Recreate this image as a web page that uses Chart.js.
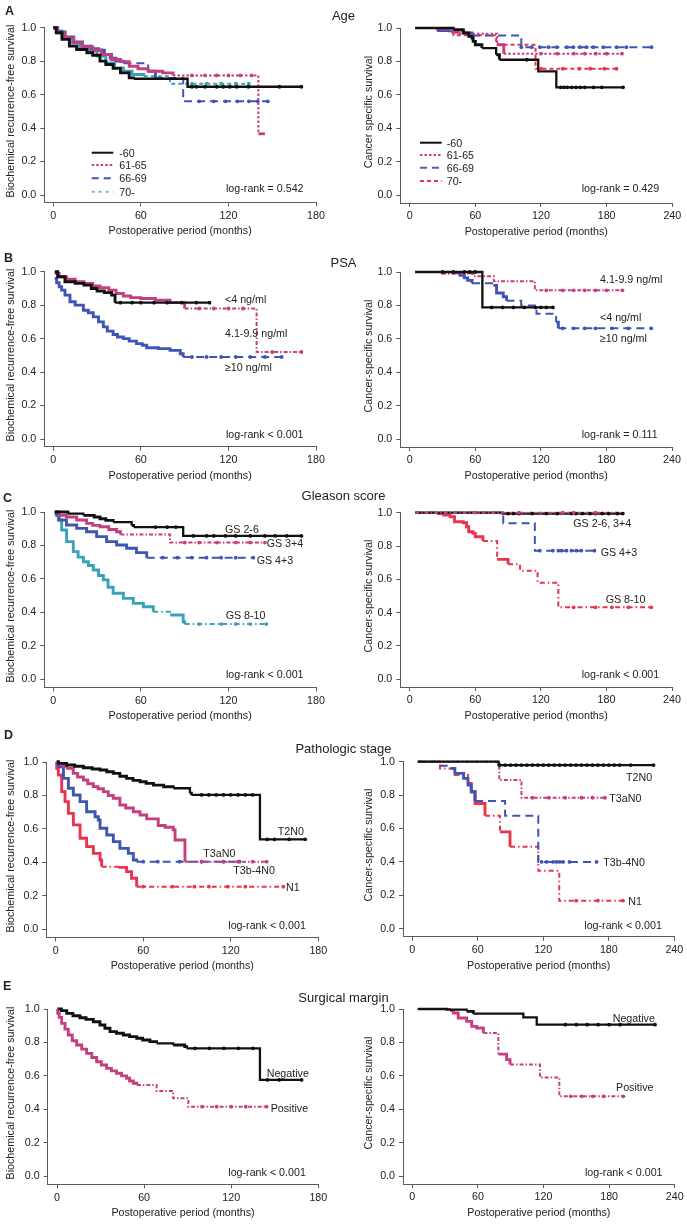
<!DOCTYPE html>
<html><head><meta charset="utf-8">
<script src="https://cdn.jsdelivr.net/npm/chart.js@4.4.1/dist/chart.umd.min.js"></script>
<style>
body{margin:0;background:#fff;width:687px;height:1225px;position:relative;overflow:hidden;font-family:'Liberation Sans',Arial,Helvetica,sans-serif;color:#222}
canvas{position:absolute}
.t{position:absolute;white-space:nowrap;font-size:10.7px;line-height:1;transform:translateY(-50%)}
.c{transform:translate(-50%,-50%)}
.title{font-size:13px}
.letter{font-weight:bold;font-size:12.5px}
.yt{transform:translate(-50%,-50%) rotate(-90deg)}
</style></head><body>
<script>
// ---------- tick labels ----------
const bcrXTicks = [0, 60, 120, 180];
const cssXTicks = [0, 60, 120, 180, 240];
const yTicks = [0, 0.2, 0.4, 0.6, 0.8, 1.0];

// ---------- A: Age ----------
const ageBcrUnder60 = [[0,1],[2,0.97],[6,0.93],[11,0.89],[16,0.87],[23,0.85],[27,0.835],[32,0.8],[36,0.78],[41,0.757],[46,0.73],[52,0.7],[55,0.695],[92,0.647],[170,0.647]];
const ageBcrUnder60Cens = [95,98,104,112,116.5,121,125.7,133.6,155,170];
const ageBcr6165 = [[0,1],[3,0.97],[8,0.94],[14,0.91],[20,0.885],[27,0.867],[33,0.84],[40,0.81],[46,0.797],[52,0.77],[58,0.755],[65,0.74],[75,0.73],[82,0.715],[140.5,0.366],[145,0.366]];
const ageBcr6165Cens = [95,104,112,120,128,136];
const ageBcr6669 = [[0,1],[3,0.975],[8,0.945],[14,0.915],[20,0.89],[26,0.875],[31,0.865],[35,0.84],[39,0.817],[43,0.8],[48,0.787],[65,0.74],[70,0.7],[89,0.56],[147,0.56]];
const ageBcr6669Cens = [100,110,118,126,134,140,147];
const ageBcr70 = [[0,1],[2,0.98],[6,0.94],[12,0.91],[18,0.88],[24,0.86],[30,0.83],[36,0.79],[42,0.76],[48,0.74],[54,0.72],[62,0.71],[80,0.665],[134,0.665]];
const ageBcr70Cens = [95,105,115,125,134];

const ageCssUnder60 = [[5,1],[40,0.99],[49,0.97],[54,0.95],[57,0.94],[58,0.92],[60,0.9],[66,0.88],[79,0.84],[82,0.81],[117.5,0.74],[134,0.645],[195,0.645]];
const ageCssUnder60Cens = [107,138,141,144,148,152,156,160,168,175.5,195];
const ageCss6165 = [[5,1],[25,0.99],[38,0.975],[45,0.965],[80,0.9],[86,0.846],[194,0.846]];
const ageCss6165Cens = [120,135,150,160,170,180,194];
const ageCss6669 = [[5,1],[25,0.985],[35,0.98],[50,0.97],[57,0.955],[102,0.885],[221,0.885]];
const ageCss6669Cens = [102,111.5,119,127,134.5,143.5,149.6,155.7,161.7,167.8,176.9,189,198,221];
const ageCss70 = [[5,1],[40,0.956],[79,0.9],[115,0.756],[189,0.756]];
const ageCss70Cens = [120,140,155,165,178,189];

// ---------- B: PSA ----------
const psaBcrUnder4 = [[1,1],[3,0.97],[8,0.94],[15,0.93],[21,0.92],[26,0.9],[30,0.885],[35,0.875],[40,0.86],[42.3,0.815],[107,0.815]];
const psaBcrUnder4Cens = [46,54,60,69,78,88,98,107];
const psaBcrMid = [[1,0.99],[4,0.97],[9,0.955],[15,0.94],[21,0.93],[27,0.915],[32,0.905],[38,0.89],[43,0.87],[48,0.855],[53,0.845],[60,0.84],[70,0.83],[80,0.815],[90,0.78],[139.3,0.52],[170,0.52]];
const psaBcrMidCens = [100,110,120,130,150,170];
const psaBcrOver10 = [[1,0.96],[2.3,0.934],[4,0.91],[5.7,0.89],[8,0.86],[11.4,0.82],[15,0.8],[20.6,0.77],[24,0.755],[27.4,0.73],[31,0.7],[34.3,0.67],[37,0.645],[41,0.625],[44,0.61],[48,0.6],[52,0.585],[57,0.57],[61,0.56],[64,0.545],[72,0.54],[80,0.53],[87,0.51],[89,0.49],[156.5,0.49]];
const psaBcrOver10Cens = [95,105,115,125,135,145,156.5];

const psaCssUnder4 = [[5,1],[66.5,0.788],[131,0.788]];
const psaCssUnder4Cens = [30,40,50,55,60,75,85,95,105,115,120,125,131];
const psaCssMid = [[5,1],[30,0.99],[58,0.975],[77,0.945],[114.5,0.89],[194.6,0.89]];
const psaCssMidCens = [125,140,150,160,170,180,194.6];
const psaCssOver10 = [[5,1],[40,0.995],[46,0.98],[50,0.965],[53,0.95],[57,0.932],[76.5,0.92],[79.5,0.874],[85.6,0.852],[88.6,0.828],[102,0.8],[116,0.75],[134,0.7],[136,0.663],[221,0.663]];
const psaCssOver10Cens = [140,150,160,170,185,200,221];

// ---------- C: Gleason score ----------
const gsBcr26 = [[1,1],[10,0.99],[20.6,0.98],[28,0.97],[32,0.96],[36,0.95],[41,0.94],[53.7,0.92],[55,0.91],[89,0.857],[170,0.857]];
const gsBcr26Cens = [70,78,84,96,105,110,118,125,135,145,152,160,170];
const gsBcr34 = [[1,1],[4,0.98],[9,0.97],[16,0.952],[22.8,0.932],[27,0.92],[32,0.912],[38,0.895],[43.4,0.882],[46,0.865],[80,0.817],[145,0.817]];
const gsBcr34Cens = [90,100,112,125,135,145];
const gsBcr43 = [[1,0.99],[2.3,0.98],[4,0.952],[9,0.922],[16,0.902],[22.8,0.882],[29.7,0.853],[36.5,0.823],[43.4,0.803],[50.2,0.783],[57,0.757],[64,0.727],[137,0.727]];
const gsBcr43Cens = [75,85,95,105,115,125,137];
const gsBcr810 = [[1,1],[3.4,0.952],[5.7,0.892],[9.1,0.823],[13.7,0.763],[17,0.73],[20.6,0.703],[24,0.68],[27.4,0.653],[31,0.62],[34.3,0.594],[37.5,0.55],[41,0.514],[48,0.484],[54.8,0.454],[61.7,0.434],[68.5,0.404],[80,0.384],[89,0.345],[90,0.33],[146,0.33]];
const gsBcr810Cens = [100,115,125,135,146];

const gsCss26 = [[5,1],[85,0.995],[195,0.995]];
const gsCss26Cens = [90,95,100,112,125,135,148,152,158,165,170,176,182,190,195];
const gsCss34 = [[5,1],[195,1]];
const gsCss34Cens = [60,100,140,150,170];
const gsCss43 = [[5,1],[85.6,0.936],[114.5,0.772],[169,0.772]];
const gsCss43Cens = [119,131,136,139,143.5,148,152.6,157,169];
const gsCss810 = [[5,1],[25,0.995],[31,0.986],[37,0.976],[41,0.946],[49,0.94],[52,0.916],[54,0.886],[58,0.876],[60,0.856],[67,0.83],[80,0.72],[90,0.69],[101,0.652],[117,0.58],[136,0.432],[221,0.432]];
const gsCss810Cens = [150,170,185,200,221];

// ---------- D: Pathologic stage ----------
const stBcrT2 = [[1,1],[2,0.992],[7.5,0.982],[13,0.975],[19,0.966],[25,0.958],[30.4,0.952],[35,0.942],[39.5,0.932],[44,0.915],[48.6,0.902],[53,0.89],[57.8,0.882],[62,0.872],[67,0.862],[74,0.852],[80.6,0.843],[92,0.813],[93,0.803],[140,0.538],[171,0.538]];
const stBcrT2Cens = [100,105,110,115,120,125,130,135,145,150,160,171];
const stBcrT3a = [[1,1],[2,0.99],[5,0.975],[8,0.962],[12,0.932],[15,0.91],[19,0.892],[22,0.87],[25.8,0.853],[29,0.84],[32.7,0.823],[36,0.8],[39.5,0.783],[44,0.743],[48,0.725],[53.2,0.703],[57.8,0.683],[62.4,0.66],[70.3,0.62],[75,0.61],[80.6,0.594],[81.8,0.534],[88.6,0.404],[144.6,0.404]];
const stBcrT3aCens = [100,115,125,135,144.6];
const stBcrT3b = [[0.5,1],[1,0.99],[2,0.972],[5.3,0.902],[8.7,0.843],[12.1,0.803],[16.7,0.763],[21.2,0.703],[27,0.673],[29.2,0.653],[30.4,0.604],[35,0.564],[39.5,0.524],[44,0.484],[49.8,0.454],[53.2,0.414],[55.5,0.404],[126,0.404]];
const stBcrT3bCens = [60,70,85,100,115,126];
const stBcrN1 = [[0.5,1],[0.7,0.962],[1.8,0.922],[4.1,0.823],[6.4,0.763],[8.7,0.693],[12.1,0.624],[16.7,0.544],[21.2,0.494],[25.8,0.454],[30.4,0.414],[31.5,0.374],[43,0.37],[48.6,0.345],[52,0.305],[55.5,0.255],[156,0.255]];
const stBcrN1Cens = [60,80,95,105,118,130,156];

const stCssT2 = [[5,1],[79,0.98],[221,0.98]];
const stCssT2Cens = [80,85,90,95,100,105,110,115,120,125,130,135,140,145,150,155,160,165,170,175,180,185,190,200,221];
const stCssT3a = [[5,1],[79.7,0.89],[100,0.784],[176.5,0.784]];
const stCssT3aCens = [110,125,140,155,165,176.5];
const stCssT3b = [[5,1],[24,0.976],[35,0.96],[39,0.93],[47,0.9],[51,0.86],[54,0.82],[57.4,0.765],[85,0.677],[115.4,0.4],[168.8,0.4]];
const stCssT3bCens = [118.5,123,129,132,135,138,144,168.8];
const stCssN1 = [[5,1],[25.3,0.96],[39,0.92],[51,0.87],[54,0.82],[57.5,0.75],[66.6,0.677],[80.3,0.58],[89.5,0.49],[115.4,0.347],[134.6,0.168],[193,0.168]];
const stCssN1Cens = [150,170,193];

// ---------- E: Surgical margin ----------
const smBcrNeg = [[1,1],[3,0.99],[6.7,0.974],[11,0.96],[15.8,0.948],[20,0.938],[25,0.924],[29.6,0.904],[33,0.885],[36.5,0.865],[41,0.855],[45.7,0.845],[50,0.835],[54.9,0.825],[59,0.815],[64,0.805],[68.6,0.795],[80,0.785],[88,0.775],[89.3,0.765],[139.8,0.576],[168.5,0.576]];
const smBcrNegCens = [95,105,115,125,135,145,153,168.5];
const smBcrPos = [[0,1],[0.5,0.974],[1.5,0.95],[3.2,0.914],[5.5,0.88],[7.8,0.845],[10.5,0.81],[13.5,0.785],[17,0.76],[20.4,0.735],[24,0.71],[27.3,0.685],[30.5,0.665],[34.2,0.645],[37.5,0.63],[41,0.616],[44.5,0.6],[48,0.586],[50,0.57],[52.6,0.556],[55,0.546],[68.6,0.51],[80,0.466],[90.5,0.416],[144.4,0.416]];
const smBcrPosCens = [100,110,120,130,144.4];

const smCssNeg = [[5,1],[31.4,0.996],[49.7,0.986],[55.8,0.972],[101.6,0.95],[113.8,0.906],[222,0.906]];
const smCssNegCens = [140,150,160,170,180,190,222];
const smCssPos = [[5,1],[34.5,0.99],[37.5,0.976],[42,0.946],[49.7,0.926],[54.3,0.896],[58.9,0.886],[65,0.856],[78.7,0.73],[86.3,0.697],[89.4,0.667],[116.8,0.59],[134.5,0.477],[193,0.477]];
const smCssPosCens = [145,155,165,175,193];

// ---------- styles ----------
const BLACK = '#111111', MAG = '#c53f80', BLUE = '#3f55b3', TEAL = '#3aa2b8', RED = '#e8344f', TEAL_L = '#8ab5b8';
const DOT = [2.5,2], DASH = [8,5], DASHDOT = [5,3,1.5,3], MAGDASH = [4,2,1.5,2];

function kmAt(curve, t) {
  let v = curve[0][1];
  for (const [x, y] of curve) { if (x <= t) v = y; else break; }
  return v;
}

function curveSets(curve, cens, color, dash) {
  const isLong = c => c.p1.parsed.x - c.p0.parsed.x > 10;
  const line = {
    data: curve.map(([x, y]) => ({x, y})),
    borderColor: color, borderWidth: 2.2, stepped: 'before', pointRadius: 0,
    fill: false, clip: false, order: 1,
    segment: {
      borderWidth: c => (isLong(c) ? (dash ? 2 : 2.3) : 2.9),
      borderDash: c => (dash && isLong(c) ? dash : undefined)
    }
  };
  const marks = {
    data: cens.map(t => ({x: t, y: kmAt(curve, t)})),
    showLine: false, pointRadius: 1.9, pointStyle: 'circle',
    pointBackgroundColor: color, pointBorderColor: color, pointBorderWidth: 0,
    clip: false, order: 0
  };
  return [line, marks];
}

const legendPlugin = {
  id: 'kmLegend',
  afterDraw(chart, args, opts) {
    if (!opts || !opts.items) return;
    const ctx = chart.ctx;
    ctx.save();
    for (const it of opts.items) {
      ctx.strokeStyle = it.color; ctx.lineWidth = 2; ctx.setLineDash(it.dash);
      ctx.beginPath();
      ctx.moveTo(it.x1 - opts.ox, it.y - opts.oy);
      ctx.lineTo(it.x2 - opts.ox, it.y - opts.oy);
      ctx.stroke();
    }
    ctx.restore();
  }
};

// ---------- panels ----------
const panels = [
  {g:{xL:44.3,x0:53.3,xR:316,yT:27.7,y0:195,yB:202.3}, xt:bcrXTicks, side:'L',
   curves:[[ageBcrUnder60,ageBcrUnder60Cens,BLACK,null],[ageBcr6165,ageBcr6165Cens,MAG,DOT],[ageBcr6669,ageBcr6669Cens,BLUE,DASH],[ageBcr70,ageBcr70Cens,TEAL,[4,3]]],
   legend:[{x1:91.7,x2:113.3,y:152.7,color:BLACK,dash:[]},{x1:91.7,x2:113.3,y:165,color:MAG,dash:DOT},{x1:91.7,x2:113.3,y:178.3,color:BLUE,dash:[7,5]},{x1:91.7,x2:113.3,y:191.7,color:TEAL_L,dash:[3,4]}]},
  {g:{xL:400.3,x0:409.7,xR:672.3,yT:28,y0:195,yB:203}, xt:cssXTicks, side:'R',
   curves:[[ageCssUnder60,ageCssUnder60Cens,BLACK,null],[ageCss6165,ageCss6165Cens,MAG,DOT],[ageCss6669,ageCss6669Cens,BLUE,DASH],[ageCss70,ageCss70Cens,RED,[4,3]]],
   legend:[{x1:420,x2:441.7,y:142.7,color:BLACK,dash:[]},{x1:420,x2:441.7,y:155,color:MAG,dash:DOT},{x1:420,x2:441.7,y:167.7,color:'#55609a',dash:[7,5]},{x1:420,x2:441.7,y:181,color:RED,dash:[4,3]}]},
  {g:{xL:44.3,x0:53.3,xR:316,yT:271.7,y0:439,yB:446.7}, xt:bcrXTicks, side:'L',
   curves:[[psaBcrUnder4,psaBcrUnder4Cens,BLACK,null],[psaBcrMid,psaBcrMidCens,MAG,MAGDASH],[psaBcrOver10,psaBcrOver10Cens,BLUE,DASH]]},
  {g:{xL:400.3,x0:409.7,xR:672,yT:272,y0:439,yB:447}, xt:cssXTicks, side:'R',
   curves:[[psaCssUnder4,psaCssUnder4Cens,BLACK,null],[psaCssMid,psaCssMidCens,MAG,MAGDASH],[psaCssOver10,psaCssOver10Cens,BLUE,DASH]]},
  {g:{xL:44.3,x0:53.3,xR:316,yT:512,y0:679.3,yB:687.3}, xt:bcrXTicks, side:'L',
   curves:[[gsBcr26,gsBcr26Cens,BLACK,null],[gsBcr34,gsBcr34Cens,MAG,MAGDASH],[gsBcr43,gsBcr43Cens,BLUE,DASH],[gsBcr810,gsBcr810Cens,TEAL,DASHDOT]]},
  {g:{xL:400.3,x0:409.7,xR:672,yT:512.7,y0:679.3,yB:687}, xt:cssXTicks, side:'R',
   curves:[[gsCss34,gsCss34Cens,MAG,MAGDASH],[gsCss26,gsCss26Cens,BLACK,null],[gsCss43,gsCss43Cens,BLUE,DASH],[gsCss810,gsCss810Cens,RED,DASHDOT]]},
  {g:{xL:46.3,x0:55.7,xR:318.3,yT:762,y0:929.3,yB:937.3}, xt:bcrXTicks, side:'L',
   curves:[[stBcrT2,stBcrT2Cens,BLACK,null],[stBcrT3a,stBcrT3aCens,MAG,MAGDASH],[stBcrT3b,stBcrT3bCens,BLUE,DASH],[stBcrN1,stBcrN1Cens,RED,DASHDOT]]},
  {g:{xL:403,x0:412.3,xR:674.3,yT:761.7,y0:928.7,yB:936.7}, xt:cssXTicks, side:'R',
   curves:[[stCssT2,stCssT2Cens,BLACK,null],[stCssT3a,stCssT3aCens,MAG,MAGDASH],[stCssT3b,stCssT3bCens,BLUE,DASH],[stCssN1,stCssN1Cens,RED,DASHDOT]]},
  {g:{xL:47.7,x0:57,xR:318.3,yT:1009,y0:1176.3,yB:1184.3}, xt:bcrXTicks, side:'L',
   curves:[[smBcrNeg,smBcrNegCens,BLACK,null],[smBcrPos,smBcrPosCens,MAG,MAGDASH]]},
  {g:{xL:403,x0:412.3,xR:674.7,yT:1009,y0:1176,yB:1184}, xt:cssXTicks, side:'R',
   curves:[[smCssNeg,smCssNegCens,BLACK,null],[smCssPos,smCssPosCens,MAG,MAGDASH]]}
];

Chart.defaults.font.family = "'Liberation Sans', Arial, Helvetica, sans-serif";
Chart.defaults.font.size = 10.7;
Chart.defaults.color = '#222';

const Y_W = 30, X_H = 18;
panels.forEach(p => {
  const g = p.g;
  const cx = p.side === 'L' ? 0 : 342, cw = p.side === 'L' ? 340 : 345;
  const cy = Math.floor(g.yT) - 16, ch = Math.ceil(g.yB) + 26 - cy;
  const tmax = p.xt[p.xt.length - 1];
  const cv = document.createElement('canvas');
  cv.width = cw; cv.height = ch;
  cv.style.left = cx + 'px'; cv.style.top = cy + 'px';
  cv.style.width = cw + 'px'; cv.style.height = ch + 'px';
  document.body.appendChild(cv);
  const datasets = [];
  p.curves.forEach(([c, cs, col, dash]) => datasets.push(...curveSets(c, cs, col, dash)));
  const axisColor = '#5a5a5a';
  new Chart(cv, {
    type: 'line',
    data: { datasets },
    plugins: [legendPlugin],
    options: {
      responsive: false, animation: false, devicePixelRatio: 1,
      layout: { padding: { left: g.xL - cx - Y_W, right: cx + cw - g.xR, top: g.yT - cy, bottom: cy + ch - g.yB - X_H } },
      plugins: { legend: { display: false }, tooltip: { enabled: false },
        kmLegend: p.legend ? { items: p.legend, ox: cx, oy: cy } : {} },
      scales: {
        x: {
          type: 'linear', min: -(g.x0 - g.xL) / (g.xR - g.x0) * tmax, max: tmax,
          afterBuildTicks: s => { s.ticks = p.xt.map(v => ({value: v})); },
          afterFit: s => { s.height = X_H; },
          ticks: { maxRotation: 0, padding: 3, color: '#222', callback: v => String(v) },
          grid: { display: true, drawOnChartArea: false, drawTicks: true, tickLength: 4, color: axisColor, lineWidth: 1 },
          border: { display: true, color: axisColor, width: 1 }
        },
        y: {
          type: 'linear', min: -(g.yB - g.y0) / (g.y0 - g.yT), max: 1,
          afterBuildTicks: s => { s.ticks = yTicks.map(v => ({value: v})); },
          afterFit: s => { s.width = Y_W; },
          ticks: { padding: 4, color: '#222', callback: v => Number(v).toFixed(1) },
          grid: { display: true, drawOnChartArea: false, drawTicks: true, tickLength: 4, color: axisColor, lineWidth: 1 },
          border: { display: true, color: axisColor, width: 1 }
        }
      }
    }
  });
});

// ---------- text ----------
const texts = [
  ['A', 5, 11, 'letter'], ['B', 4, 258, 'letter'], ['C', 3, 498.3, 'letter'], ['D', 4, 735, 'letter'], ['E', 3, 986.3, 'letter'],
  ['Age', 343.5, 15, 'title c'], ['PSA', 343.5, 261.7, 'title c'], ['Gleason score', 343.5, 495, 'title c'],
  ['Pathologic stage', 343.5, 747.7, 'title c'], ['Surgical margin', 343.5, 996.7, 'title c'],
  ['-60', 119.3, 152.7, ''], ['61-65', 119.3, 165, ''], ['66-69', 119.3, 178.3, ''], ['70-', 119.3, 191.7, ''],
  ['-60', 446.7, 142.7, ''], ['61-65', 446.7, 155, ''], ['66-69', 446.7, 167.7, ''], ['70-', 446.7, 181, ''],
  ['log-rank = 0.542', 226, 188.3, ''], ['log-rank = 0.429', 581.7, 188.3, ''],
  ['log-rank < 0.001', 226, 434.3, ''], ['log-rank = 0.111', 581.7, 434.3, ''],
  ['log-rank < 0.001', 226, 674.3, ''], ['log-rank < 0.001', 581.7, 674.3, ''],
  ['log-rank < 0.001', 228.3, 925, ''], ['log-rank < 0.001', 584.3, 925, ''],
  ['log-rank < 0.001', 228.3, 1172.3, ''], ['log-rank < 0.001', 585, 1172.3, ''],
  ['<4 ng/ml', 225, 299, ''], ['4.1-9.9 ng/ml', 225, 333, ''], ['\u226510 ng/ml', 225, 367, ''],
  ['4.1-9.9 ng/ml', 600, 279.3, ''], ['<4 ng/ml', 600, 317.3, ''], ['\u226510 ng/ml', 600, 338, ''],
  ['GS 2-6', 225, 529, ''], ['GS 3+4', 266.7, 543.3, ''], ['GS 4+3', 256.7, 560, ''], ['GS 8-10', 225.7, 615, ''],
  ['GS 2-6, 3+4', 573.3, 523.3, ''], ['GS 4+3', 600.7, 551.7, ''], ['GS 8-10', 605.7, 599, ''],
  ['T2N0', 277.7, 831, ''], ['T3aN0', 203.3, 853.3, ''], ['T3b-4N0', 233.3, 870, ''], ['N1', 286, 886.7, ''],
  ['T2N0', 626, 776.7, ''], ['T3aN0', 609.3, 798.3, ''], ['T3b-4N0', 603.3, 861.7, ''], ['N1', 628.3, 901, ''],
  ['Negative', 266.7, 1073.3, ''], ['Positive', 270.7, 1107.7, ''],
  ['Negative', 612.7, 1017.7, ''], ['Positive', 616, 1086.7, '']
];
panels.forEach((p, i) => {
  const g = p.g;
  texts.push(['Postoperative period (months)', (g.xL + g.xR) / 2, g.yB + 28, 'c']);
  const yTitle = p.side === 'L' ? 'Biochemical recurrence-free survival' : (i === 1 ? 'Cancer specific survival' : 'Cancer-specific survival');
  texts.push([yTitle, p.side === 'L' ? 9.5 : 367.5, (g.yT + g.y0) / 2, 'yt']);
});
texts.forEach(([s, x, y, cls]) => {
  const d = document.createElement('div');
  d.className = 't ' + cls;
  d.textContent = s;
  d.style.left = x + 'px'; d.style.top = y + 'px';
  document.body.appendChild(d);
});
</script>
</body></html>
